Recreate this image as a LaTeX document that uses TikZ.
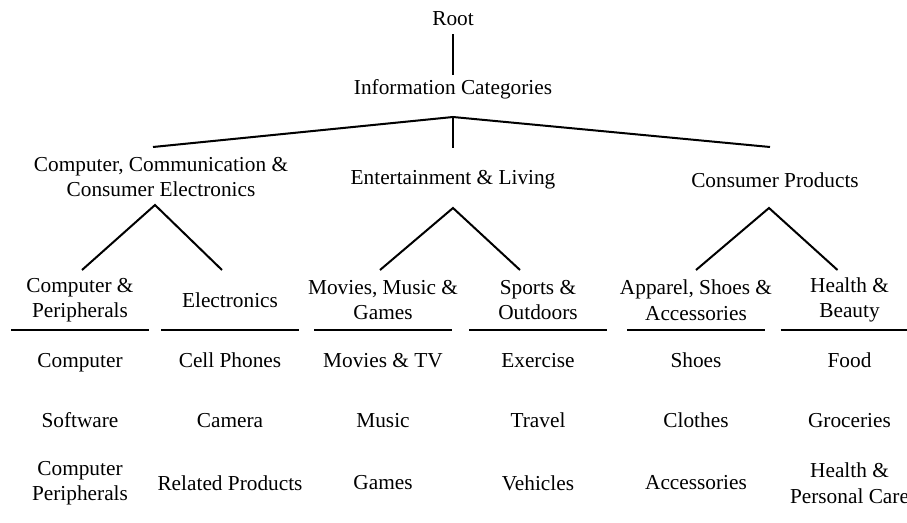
\documentclass[tikz,border=0pt]{standalone}
\usepackage{fontspec}
\setmainfont{Liberation Serif}
\usetikzlibrary{calc}

\begin{document}
\begin{tikzpicture}[x=1pt, y=-1pt, line width=2pt,
  every node/.style={font=\fontsize{21.3}{25.5}\selectfont, align=center},
  grp/.style={minimum height=54pt},
  sub/.style={minimum height=58pt},
  rule/.style={line width=2.6pt}]
  \clip (0,0) rectangle (907,522);
  % top levels
  \node (root) at (453,19) {Root};
  \node (info) at (453,89) {Information Categories};
  \draw[shorten <=4pt] (root) -- (info);
  \coordinate (fork) at (453,117);
  % main groups
  \node[grp] (cce) at (161,177) {Computer, Communication \&\\Consumer Electronics};
  \node[grp] (ent) at (453,180) {Entertainment \& Living};
  \node[grp] (cons) at (775,180) {Consumer Products};
  \draw ([xshift=-8pt,yshift=2pt]cce.north) -- (fork) -- ([xshift=-5pt,yshift=5pt]cons.north);
  \draw (fork) -- ([yshift=4pt]ent.north);
  % sub groups
  \node[sub] (cp) at (80,300) {Computer \&\\Peripherals};
  \node[sub] (elec) at (230,300) {Electronics};
  \node[sub] (mmg) at (383,300) {Movies, Music \&\\Games};
  \node[sub] (so) at (538,300) {Sports \&\\Outdoors};
  \node[sub] (asa) at (696,300) {Apparel, Shoes \&\\Accessories};
  \node[sub] (hb) at (849.5,300) {Health \&\\Beauty};
  \draw ([xshift=2pt]cp.north) -- ([xshift=-6pt]cce.south) -- ([xshift=-8pt]elec.north);
  \draw ([xshift=-3pt]mmg.north) -- (ent.south) -- ([xshift=-18pt]so.north);
  \draw (asa.north) -- ([xshift=-6pt]cons.south) -- ([xshift=-12pt]hb.north);
  \foreach \n in {cp,elec,mmg,so,asa,hb}
    \draw[rule] ([xshift=-69pt]\n.south) -- ([xshift=69pt]\n.south);
  % leaves
  \foreach \n/\a/\b/\c in {cp/Computer/Software/{Computer\\Peripherals},
      elec/Cell Phones/Camera/Related Products,
      mmg/Movies \& TV/Music/Games,
      so/Exercise/Travel/Vehicles,
      asa/Shoes/Clothes/Accessories,
      hb/Food/Groceries/{Health \&\\Personal Care}}
  {
    \node[anchor=base] (\n-1) at (\n |- 0,367) {\a};
    \node[anchor=base] (\n-2) at (\n |- 0,427) {\b};
    \node (\n-3) at (\n |- 0,483) {\c};
  }
\end{tikzpicture}
\end{document}
